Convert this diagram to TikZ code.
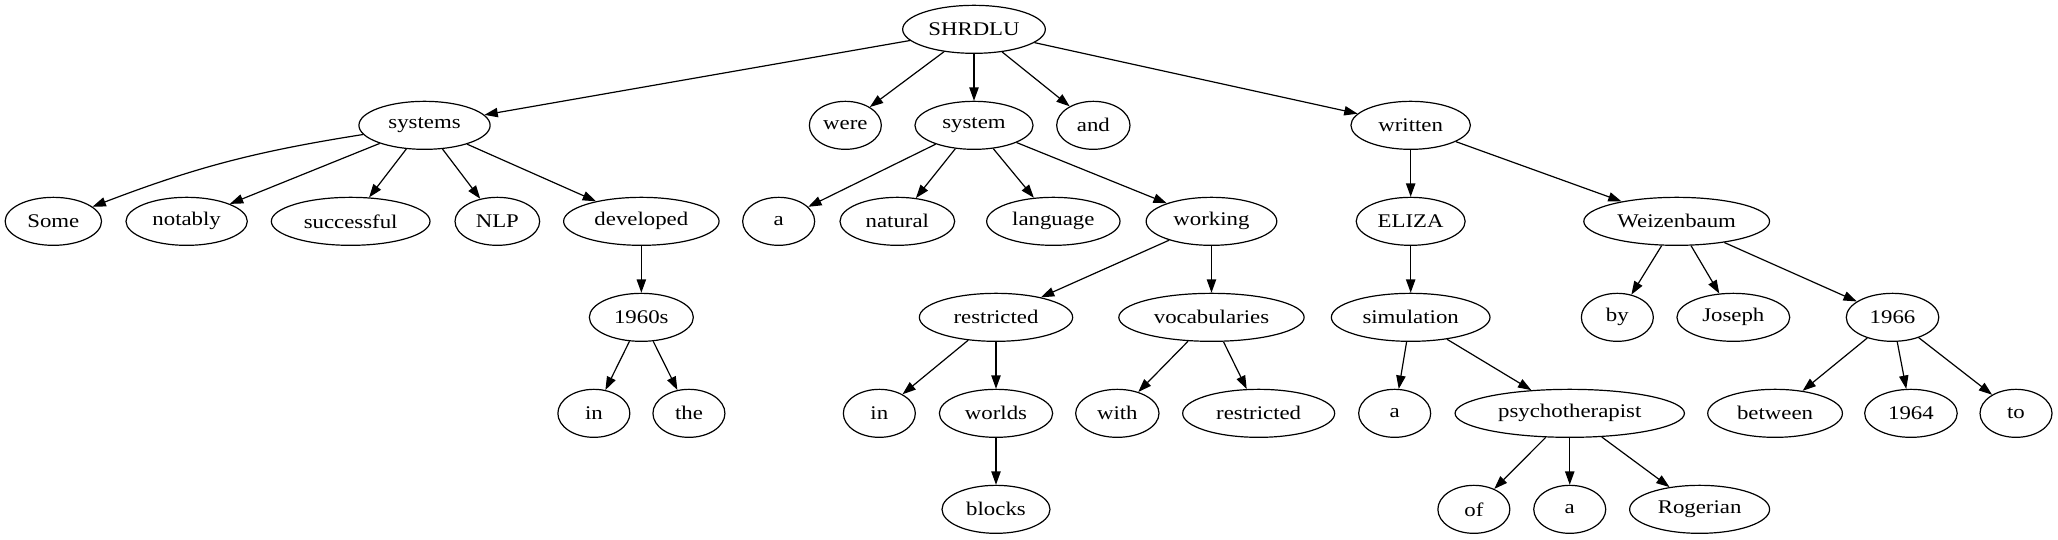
\documentclass[tikz,border=0pt]{standalone}
\usepackage{fontspec}
\setmainfont{Liberation Serif}[FakeStretch=1.18]
\usetikzlibrary{arrows.meta,shapes.geometric}
\tikzset{
  wnode/.style={ellipse,draw,line width=0.9pt,inner sep=1pt,minimum height=36pt,minimum width=#1,
    font=\fontsize{14.5pt}{17pt}\selectfont},
  wnode/.default=54pt,
  edge/.style={line width=0.9pt,-{Triangle[length=10pt,width=7pt]}}
}
\begin{document}
\begin{tikzpicture}
\useasboundingbox (0,0) rectangle (1543.5pt,-404.25pt);
% row 1
\node[wnode=107pt] (shrdlu) at (730.5pt,-22pt) {SHRDLU};
% row 2
\node[wnode=98.4pt] (systems) at (318.4pt,-94pt) {systems};
\node[wnode] (were) at (634pt,-94pt) {were};
\node[wnode=88.6pt] (system) at (730.5pt,-94pt) {system};
\node[wnode=55pt] (and) at (820pt,-94pt) {and};
\node[wnode=89.6pt] (written) at (1058pt,-94pt) {written};
% row 3
\node[wnode=72.3pt] (some) at (40pt,-166pt) {Some};
\node[wnode=91pt] (notably) at (140pt,-166pt) {notably};
\node[wnode=119pt] (successful) at (263pt,-166pt) {successful};
\node[wnode=63.5pt] (nlp) at (373pt,-166pt) {NLP};
\node[wnode=116.6pt] (developed) at (481pt,-166pt) {developed};
\node[wnode] (a1) at (584pt,-166pt) {a};
\node[wnode=86pt] (natural) at (673pt,-166pt) {natural};
\node[wnode=100pt] (language) at (790pt,-166pt) {language};
\node[wnode=98pt] (working) at (908.6pt,-166pt) {working};
\node[wnode=81.7pt] (eliza) at (1058pt,-166pt) {ELIZA};
\node[wnode=139.3pt] (weiz) at (1257.5pt,-166pt) {Weizenbaum};
% row 4
\node[wnode=78pt] (s1960) at (481pt,-238pt) {1960s};
\node[wnode=115pt] (restr1) at (747pt,-238pt) {restricted};
\node[wnode=139pt] (vocab) at (908.6pt,-238pt) {vocabularies};
\node[wnode=119pt] (simul) at (1058pt,-238pt) {simulation};
\node[wnode] (by) at (1213pt,-238pt) {by};
\node[wnode=84.6pt] (joseph) at (1300pt,-238pt) {Joseph};
\node[wnode=69.4pt] (y1966) at (1419.4pt,-238pt) {1966};
% row 5
\node[wnode] (in1) at (445.4pt,-310pt) {in};
\node[wnode] (the) at (516.7pt,-310pt) {the};
\node[wnode] (in2) at (659.5pt,-310pt) {in};
\node[wnode=85pt] (worlds) at (747pt,-310pt) {worlds};
\node[wnode=62.5pt] (with) at (838pt,-310pt) {with};
\node[wnode=114pt] (restr2) at (944pt,-310pt) {restricted};
\node[wnode] (a2) at (1046pt,-310pt) {a};
\node[wnode=172pt] (psycho) at (1177.3pt,-310pt) {psychotherapist};
\node[wnode=101pt] (between) at (1331.3pt,-310pt) {between};
\node[wnode=69.4pt] (y1964) at (1433.2pt,-310pt) {1964};
\node[wnode] (nto) at (1512pt,-310pt) {to};
% row 6
\node[wnode=81pt] (blocks) at (747pt,-382pt) {blocks};
\node[wnode] (of) at (1105.4pt,-382pt) {of};
\node[wnode] (a3) at (1177.3pt,-382pt) {a};
\node[wnode=105pt] (rogerian) at (1274.7pt,-382pt) {Rogerian};
% edges
\foreach \t in {systems,were,system,and,written} \draw[edge] (shrdlu) -- (\t);
\draw[edge] (systems) to[bend right=6] (some);
\foreach \t in {notably,successful,nlp,developed} \draw[edge] (systems) -- (\t);
\draw[edge] (developed) -- (s1960);
\foreach \t in {in1,the} \draw[edge] (s1960) -- (\t);
\foreach \t in {a1,natural,language,working} \draw[edge] (system) -- (\t);
\foreach \t in {restr1,vocab} \draw[edge] (working) -- (\t);
\foreach \t in {in2,worlds} \draw[edge] (restr1) -- (\t);
\draw[edge] (worlds) -- (blocks);
\foreach \t in {with,restr2} \draw[edge] (vocab) -- (\t);
\foreach \t in {eliza,weiz} \draw[edge] (written) -- (\t);
\draw[edge] (eliza) -- (simul);
\foreach \t in {a2,psycho} \draw[edge] (simul) -- (\t);
\foreach \t in {of,a3,rogerian} \draw[edge] (psycho) -- (\t);
\foreach \t in {by,joseph,y1966} \draw[edge] (weiz) -- (\t);
\foreach \t in {between,y1964,nto} \draw[edge] (y1966) -- (\t);
\end{tikzpicture}
\end{document}
